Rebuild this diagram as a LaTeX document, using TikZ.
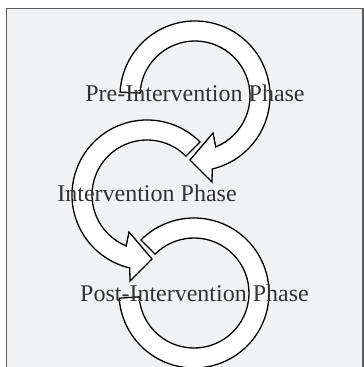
\documentclass[tikz,border=0pt]{standalone}
\usepackage{fontspec}
\setmainfont{Liberation Serif}
\usetikzlibrary{calc}
\definecolor{bgcol}{HTML}{F1F2F4}
\definecolor{framecol}{HTML}{5A5A5A}
\definecolor{txtcol}{HTML}{333333}
\tikzset{
  blockarrow/.style={draw=black, fill=white, line width=1.3pt, line join=miter},
  phase/.style={anchor=base, text=txtcol, font=\fontsize{24}{28}\selectfont, inner sep=0pt}
}
\begin{document}
\begin{tikzpicture}[x=1pt,y=1pt]
\useasboundingbox (0,0) rectangle (364,367);
\clip (0,0) rectangle (364,367);
\fill[white] (0,0) rectangle (364,367);
\draw[framecol, fill=bgcol, line width=1.4pt] (6.5,-10) rectangle (363,358.5);
\coordinate (c1) at (195,271);
\coordinate (c2) at (147,172);
\coordinate (c3) at (194,74);
% arrow 1 (clockwise)
\draw[blockarrow] ($(c1)+(177:75)$) arc[start angle=177, end angle=-76.7, radius=75]
  -- (212,185) -- (190,207) -- (213,234)
  -- ($(c1)+(-67.8:55)$) arc[start angle=-67.8, end angle=177, radius=55] -- cycle;
% arrow 2 (counter-clockwise)
\draw[blockarrow] ($(c2)+(45:75)$) arc[start angle=45, end angle=256.7, radius=75]
  -- (130,86) -- (152,108) -- (129,135)
  -- ($(c2)+(247.8:55)$) arc[start angle=247.8, end angle=45, radius=55] -- cycle;
% arrow 3 (ring, no head)
\draw[blockarrow] ($(c3)+(135:75)$) arc[start angle=135, end angle=-176, radius=75]
  -- ($(c3)+(-176:55)$) arc[start angle=-176, end angle=135, radius=55] -- cycle;
\node[phase] (pre) at (195,265) {Pre-Intervention Phase};
\node[phase] (int) at (147,165) {Intervention Phase};
\node[phase] (post) at (194.5,65) {Post-Intervention Phase};
\end{tikzpicture}
\end{document}
